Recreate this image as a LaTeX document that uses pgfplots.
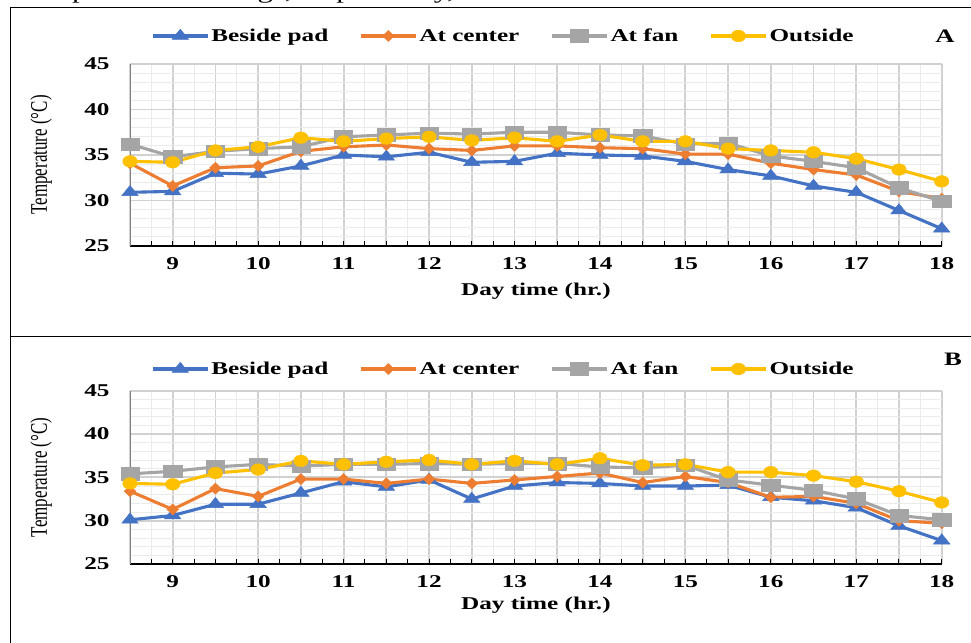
\documentclass[border=0pt]{standalone}
\usepackage{fontspec}
\setmainfont{Liberation Serif}[FakeStretch=1.4]
\newfontfamily\plainserif{Liberation Serif}
\usepackage{graphicx}
\usepackage{pgfplots}
\pgfplotsset{compat=1.18}
\usepackage{pgfplotstable}

\definecolor{cBlue}{HTML}{4472C4}
\definecolor{cOrange}{HTML}{ED7D31}
\definecolor{cGray}{HTML}{A5A5A5}
\definecolor{cYellow}{HTML}{FFC000}

\pgfplotstableread{
x bp ac af out
8.5 30.9 34.1 36.2 34.3
9 31.0 31.6 34.8 34.2
9.5 33.0 33.6 35.4 35.5
10 32.9 33.8 35.7 35.9
10.5 33.8 35.4 35.9 36.9
11 35.0 35.9 37.0 36.5
11.5 34.8 36.1 37.2 36.8
12 35.3 35.7 37.4 37.0
12.5 34.2 35.5 37.3 36.6
13 34.3 36.0 37.5 36.9
13.5 35.2 36.0 37.5 36.5
14 35.0 35.8 37.2 37.2
14.5 34.9 35.7 37.1 36.5
15 34.3 35.1 36.2 36.5
15.5 33.4 35.1 36.3 35.7
16 32.7 34.1 34.9 35.5
16.5 31.6 33.4 34.3 35.3
17 30.9 32.8 33.6 34.6
17.5 28.9 31.0 31.4 33.4
18 26.9 30.2 29.9 32.1
}\dataA

\pgfplotstableread{
x bp ac af out
8.5 30.1 33.4 35.4 34.3
9 30.6 31.3 35.7 34.2
9.5 31.9 33.7 36.2 35.5
10 31.9 32.8 36.5 35.9
10.5 33.2 34.8 36.3 36.9
11 34.5 34.8 36.5 36.5
11.5 33.9 34.3 36.5 36.8
12 34.7 34.8 36.6 37.0
12.5 32.5 34.3 36.5 36.5
13 34.0 34.7 36.6 36.9
13.5 34.4 35.1 36.6 36.5
14 34.3 35.5 36.2 37.2
14.5 34.0 34.4 36.1 36.4
15 34.0 35.1 36.4 36.5
15.5 34.1 34.4 34.7 35.6
16 32.7 32.7 34.1 35.6
16.5 32.3 32.8 33.5 35.2
17 31.5 32.0 32.5 34.5
17.5 29.4 30.0 30.6 33.4
18 27.7 29.7 30.1 32.1
}\dataB

\pgfplotsset{
  panel/.style={
    width=811.7pt, scale only axis,
    xmin=8.5, xmax=18, ymin=25, ymax=45,
    axis x line=bottom, axis y line=left,
    axis line style={-},
    x axis line style={black, line width=1.4pt},
    y axis line style={draw=gray, line width=1pt},
    xtick={8.5,9,...,18},
    xticklabels={,9,,10,,11,,12,,13,,14,,15,,16,,17,,18},
    minor x tick num=1,
    ytick={25,30,...,45}, minor y tick num=4,
    grid=both,
    major grid style={draw=black!18, line width=1.8pt},
    minor grid style={draw=black!8, line width=1pt},
    tick align=inside, major tick length=5pt, minor tick length=5pt,
    x tick style={black, line width=1pt},
    y tick style={draw=none},
    /pgf/number format/assume math mode=true,
    tick label style={font=\fontsize{18}{20}\selectfont\bfseries},
    xticklabel style={yshift=-8pt},
    yticklabel style={xshift=-17pt},
    xlabel={Day time (hr.)},
    xlabel style={font=\fontsize{18}{20}\selectfont\bfseries, anchor=center},
    ylabel={\scalebox{1}[1.4]{\plainserif\fontsize{17}{19}\selectfont Temperature (°C)}},
    ylabel style={anchor=center, at={(axis description cs:-0.1096,0.5)}},
    legend columns=4,
    legend style={draw=none, fill=none, anchor=center,
      font=\fontsize{18}{20}\selectfont\bfseries,
      /tikz/every even column/.append style={column sep=29pt}},
    legend image code/.code={\draw[mark repeat=2,mark phase=2,##1] plot coordinates {(0pt,0pt) (27.5pt,0pt) (55pt,0pt)};},
  },
  sBP/.style={cBlue, line width=3.1pt, mark=triangle*, mark size=6.8pt, mark options={xscale=1.4, line width=0.5pt, solid}},
  sAC/.style={cOrange, line width=3.1pt, mark=diamond*, mark size=5.5pt, mark options={xscale=1.4, line width=0.5pt, solid}},
  sAF/.style={cGray, line width=3.1pt, mark=square*, mark size=6.3pt, mark options={xscale=1.45, line width=0.5pt, solid}},
  sOUT/.style={cYellow, line width=3.1pt, mark=*, mark size=5.8pt, mark options={xscale=1.25, line width=0.5pt, solid}},
}

\begin{document}
\begin{tikzpicture}
\useasboundingbox (0,0) rectangle (971pt,642pt);
\clip (0,0) rectangle (971pt,642pt);

\node[anchor=base east, inner sep=0pt, font=\fontsize{22}{24}\selectfont] at (455pt,643pt) {and the outside temperature readings, respectively,};

\draw[line width=1.5pt] (10.5pt,-5pt) -- (10.5pt,634.5pt) -- (980pt,634.5pt);
\draw[line width=1.5pt] (10.5pt,305.3pt) -- (980pt,305.3pt);

\begin{axis}[panel, height=182pt, at={(130pt,396pt)}, anchor=south west,
  xlabel style={at={(axis description cs:0.5,-0.247)}},
  legend style={at={(axis description cs:0.46,1.154)}}]
\addplot[sBP] table[x=x,y=bp]{\dataA};
\addplot[sAC] table[x=x,y=ac]{\dataA};
\addplot[sAF] table[x=x,y=af]{\dataA};
\addplot[sOUT] table[x=x,y=out]{\dataA};
\legend{Beside pad, At center, At fan, Outside}
\end{axis}
\node[font=\fontsize{19}{21}\selectfont\bfseries] at (945pt,606pt) {A};

\begin{axis}[panel, height=173.3pt, at={(130pt,78pt)}, anchor=south west,
  xlabel style={at={(axis description cs:0.5,-0.237)}},
  legend style={at={(axis description cs:0.46,1.125)}}]
\addplot[sBP] table[x=x,y=bp]{\dataB};
\addplot[sAC] table[x=x,y=ac]{\dataB};
\addplot[sAF] table[x=x,y=af]{\dataB};
\addplot[sOUT] table[x=x,y=out]{\dataB};
\legend{Beside pad, At center, At fan, Outside}
\end{axis}
\node[font=\fontsize{19}{21}\selectfont\bfseries] at (953pt,283pt) {B};
\end{tikzpicture}
\end{document}
